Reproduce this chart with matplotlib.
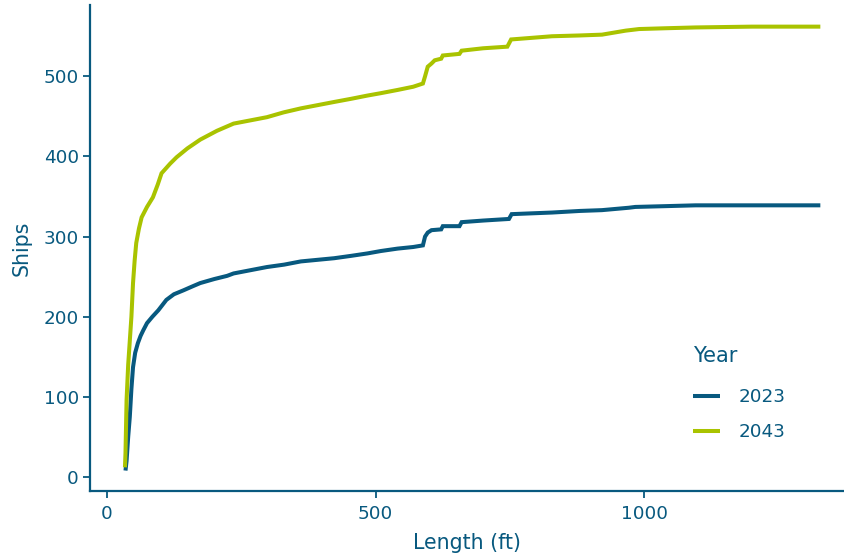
import matplotlib
matplotlib.use("Agg")
import matplotlib.pyplot as plt

plt.rcParams['font.family'] = ['DejaVu Sans']

BLUE = '#08597f'
GREEN = '#a9c300'

years = ['2023', '2043']

len_2023 = [35, 37, 40, 43, 46, 49, 53, 58, 63, 68, 75, 85, 96, 111, 125, 143, 160, 174,
            200, 224, 236, 267, 298, 330, 361, 392, 423, 455, 485, 510, 541, 570, 588,
            592, 597, 604, 622, 625, 656, 660, 700, 748, 753, 790, 828, 880, 921, 971,
            983, 1040, 1095, 1200, 1327]
ships_2023 = [8, 20, 50, 75, 110, 137, 155, 167, 176, 183, 192, 200, 208, 221, 228, 233,
              238, 242, 247, 251, 254, 258, 262, 265, 269, 271, 273, 276, 279, 282, 285,
              287, 289, 300, 305, 308, 309, 313, 313, 318, 320, 322, 328, 329, 330, 332,
              333, 336, 337, 338, 339, 339, 339]

len_2043 = [34, 35, 37, 40, 43, 46, 49, 52, 55, 60, 65, 75, 86, 95, 102, 118, 130, 150,
            174, 205, 236, 267, 298, 329, 361, 392, 423, 455, 485, 510, 541, 570, 588,
            592, 597, 604, 610, 622, 625, 656, 660, 700, 745, 752, 790, 828, 880, 921,
            965, 990, 1040, 1095, 1200, 1327]
ships_2043 = [12, 30, 96, 140, 170, 200, 242, 270, 292, 310, 324, 337, 349, 365, 379, 391,
              399, 410, 421, 432, 441, 445, 449, 455, 460, 464, 468, 472, 476, 479, 483,
              487, 491, 500, 512, 516, 520, 522, 526, 528, 532, 535, 537, 546, 548, 550,
              551, 552, 557, 559, 560, 561, 562, 562]

x_ticks = [0, 500, 1000]
y_ticks = [0, 100, 200, 300, 400, 500]

fig = plt.figure(figsize=(8.44, 5.57), dpi=100)
ax = fig.add_axes([90/844, 1 - 491/557, 1 - 90/844, (491 - 5)/557])

ax.plot(len_2023, ships_2023, color=BLUE, lw=2.9, label=years[0],
        solid_joinstyle='miter', solid_capstyle='butt')
ax.plot(len_2043, ships_2043, color=GREEN, lw=2.9, label=years[1],
        solid_joinstyle='miter', solid_capstyle='butt')

ax.set_xlim(-31, 1371)
ax.set_ylim(-17.5, 589)
ax.set_xticks(x_ticks)
ax.set_yticks(y_ticks)

for s in ['top', 'right']:
    ax.spines[s].set_visible(False)
for s in ['left', 'bottom']:
    ax.spines[s].set_color(BLUE)
    ax.spines[s].set_linewidth(1.6)

ax.tick_params(axis='both', colors=BLUE, labelcolor=BLUE, labelsize=13.2,
               length=5, width=1.3, direction='out')
ax.tick_params(axis='y', pad=3)
ax.tick_params(axis='x', pad=5)

ax.set_xlabel('Length (ft)', color=BLUE, fontsize=14.8, labelpad=7)
ax.set_ylabel('Ships', color=BLUE, fontsize=14.8, labelpad=9)

leg = ax.legend(title='Year', loc='upper left', bbox_to_anchor=(678/844, 1 - 331/557),
                bbox_transform=fig.transFigure, frameon=False, fontsize=13.2,
                title_fontsize=15, handlelength=1.5, handletextpad=1.03,
                labelspacing=0.95, borderpad=0.3)
leg._legend_box.align = 'left'
leg._legend_box.sep = leg._legend_box.sep + 3.5
leg.get_title().set_color(BLUE)
for t in leg.get_texts():
    t.set_color(BLUE)

fig.savefig('out.png', dpi=100)
